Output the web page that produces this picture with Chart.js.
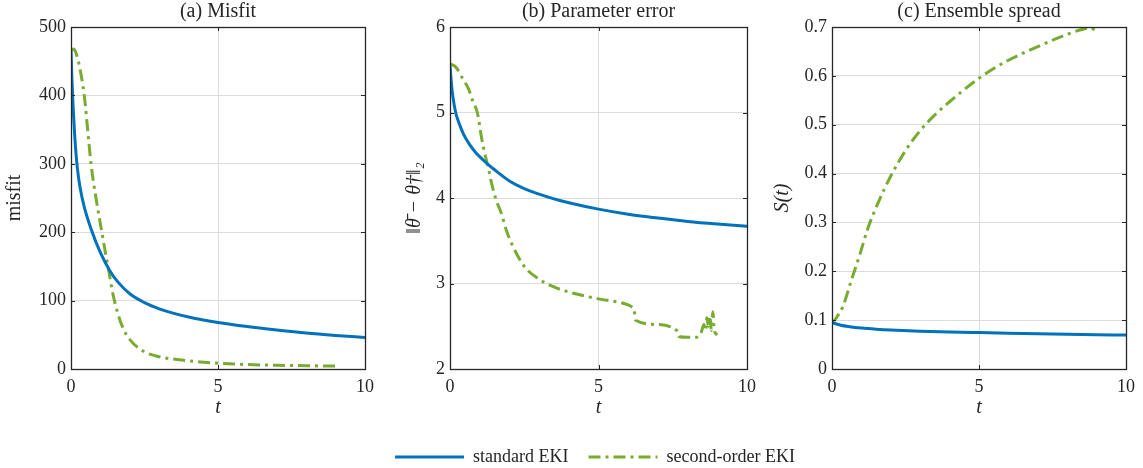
<!DOCTYPE html>
<html><head><meta charset="utf-8">
<script src="https://cdn.jsdelivr.net/npm/chart.js@4/dist/chart.umd.min.js"></script>
<style>
html,body{margin:0;padding:0;background:#fff;}
#wrap{position:relative;width:1143px;height:468px;overflow:hidden;}
canvas{position:absolute;left:0;top:0;}
</style></head><body>
<div id="wrap">
<canvas id="cb" width="1143" height="468"></canvas>
<canvas id="ca" width="1143" height="468"></canvas>
<canvas id="cc" width="1143" height="468"></canvas>
</div>
<script>
// ---------- data ----------
const seriesNames = ['standard EKI', 'second-order EKI'];
const panelTitles = ['(a) Misfit', '(b) Parameter error', '(c) Ensemble spread'];
const yTitles = ['misfit', '‖θ̄ − θ†‖₂', 'S(t)'];
const xTicks = [0, 5, 10];
const yTicksA = [0, 100, 200, 300, 400, 500];
const yTicksB = [2, 3, 4, 5, 6];
const yTicksC = [0, 0.1, 0.2, 0.3, 0.4, 0.5, 0.6, 0.7];

// (a) misfit
const tStdA = [0, 0.03, 0.07, 0.12, 0.19, 0.25, 0.31, 0.45, 0.68, 1.0, 1.33, 1.6, 2, 2.5, 3, 4, 5, 6, 7, 8, 9, 10];
const stdA  = [466, 425, 385, 345, 305, 282, 265, 237, 205, 170, 143, 127, 110, 97, 88, 76, 68, 62, 57, 52.5, 49, 46];
const tSecA = [0, 0.1, 0.2, 0.3, 0.45, 0.6, 0.68, 0.85, 1.05, 1.2, 1.3, 1.4, 1.6, 1.8, 2.0, 2.5, 3, 4, 5, 6, 7, 8, 9];
const secA  = [466, 468, 458, 440, 400, 335, 300, 250, 200, 163, 140, 115, 80, 57, 43, 25, 18, 12, 8.5, 6.5, 5.5, 4.8, 4.2];

// (b) parameter error
const tStdB = [0, 0.05, 0.1, 0.19, 0.3, 0.45, 0.65, 0.87, 1.1, 1.26, 1.5, 2, 2.5, 3, 3.5, 4, 5, 6, 7, 8, 9, 10];
const stdB  = [5.55, 5.33, 5.18, 5.0, 4.88, 4.75, 4.63, 4.53, 4.45, 4.40, 4.33, 4.20, 4.11, 4.045, 3.99, 3.945, 3.87, 3.81, 3.765, 3.725, 3.695, 3.67];
const tSecB = [0, 0.2, 0.42, 0.62, 0.78, 0.92, 1.06, 1.17, 1.30, 1.40, 1.56, 1.73, 1.90, 2.07, 2.5, 3, 3.5, 4, 5, 6, 6.15, 6.2, 6.25, 7, 7.6, 7.65, 7.7, 8.0, 8.3, 8.45, 8.55, 8.6, 8.65, 8.7, 8.75, 8.8, 8.85, 8.9, 9.0];
const secB  = [5.57, 5.53, 5.40, 5.28, 5.12, 5.0, 4.71, 4.52, 4.34, 4.17, 3.97, 3.82, 3.62, 3.47, 3.20, 3.05, 2.96, 2.90, 2.82, 2.75, 2.72, 2.70, 2.57, 2.52, 2.46, 2.44, 2.38, 2.37, 2.37, 2.42, 2.52, 2.45, 2.60, 2.50, 2.62, 2.45, 2.67, 2.45, 2.40];

// (c) ensemble spread
const tStdC = [0, 0.3, 0.6, 1, 1.5, 2, 3, 4, 5, 6, 7, 8, 9, 10];
const stdC  = [0.095, 0.0895, 0.0865, 0.0838, 0.0815, 0.0798, 0.0775, 0.0758, 0.0745, 0.0733, 0.0722, 0.0712, 0.0703, 0.0695];
const tSecC = [0, 0.15, 0.37, 0.66, 0.94, 1.22, 1.56, 2.0, 2.5, 3, 3.5, 4, 4.5, 5, 5.5, 6, 7, 8, 8.5, 8.8, 9.0];
const secC  = [0.093, 0.105, 0.128, 0.182, 0.233, 0.288, 0.339, 0.395, 0.447, 0.488, 0.52, 0.547, 0.572, 0.595, 0.615, 0.632, 0.66, 0.685, 0.695, 0.698, 0.69];

// ---------- styling ----------
const BLUE = '#0072BD', GREEN = '#77AC30', INK = '#262626', GRID = '#dcdcdc';
const SERIF = "'Liberation Serif', 'Times New Roman', serif";
const W = 1143, H = 468;
const PLOT_BOTTOM = 369, XTITLE_Y = 408;

function pts(xs, ys) { return xs.map((x, i) => ({x: x, y: ys[i]})); }

const framePlugin = {
  id: 'frame',
  afterDraw(chart) {
    const {ctx, chartArea: a, scales} = chart;
    ctx.save();
    ctx.strokeStyle = INK;
    ctx.lineWidth = 1;
    ctx.beginPath();
    const tl = 4;
    scales.y.ticks.forEach(t => {
      const py = Math.round(scales.y.getPixelForValue(t.value)) + 0.5;
      ctx.moveTo(a.left, py); ctx.lineTo(a.left + tl, py);
      ctx.moveTo(a.right, py); ctx.lineTo(a.right - tl, py);
    });
    scales.x.ticks.forEach(t => {
      const px = Math.round(scales.x.getPixelForValue(t.value)) + 0.5;
      ctx.moveTo(px, a.bottom); ctx.lineTo(px, a.bottom - tl);
      ctx.moveTo(px, a.top); ctx.lineTo(px, a.top + tl);
    });
    ctx.stroke();
    ctx.lineWidth = 1.3;
    ctx.strokeRect(Math.round(a.left) + 0.5, Math.round(a.top) + 0.5, Math.round(a.right - a.left), Math.round(a.bottom - a.top));
    ctx.restore();
  }
};

function legendLabels(chart) {
  const items = Chart.defaults.plugins.legend.labels.generateLabels(chart);
  items.forEach(it => {
    const ds = chart.data.datasets[it.datasetIndex];
    it.lineDash = ds.borderDash || [];
    it.lineWidth = 3;
    it.strokeStyle = ds.borderColor;
    it.fillStyle = ds.borderColor;
    it.pointStyle = 'line';
  });
  return items;
}

function makePanel(id, p) {
  const padL = p.padLeft || 0;
  const padB = p.padBottom;
  const cfg = {
    type: 'line',
    data: {
      datasets: [
        {label: seriesNames[0], data: pts(p.t1, p.v1), borderColor: BLUE, backgroundColor: BLUE,
         borderWidth: 3, pointRadius: 0, cubicInterpolationMode: 'monotone', fill: false},
        {label: seriesNames[1], data: pts(p.t2, p.v2), borderColor: GREEN, backgroundColor: GREEN,
         borderWidth: 3, borderDash: [12, 5, 3, 5], pointRadius: 0, cubicInterpolationMode: 'monotone', fill: false}
      ]
    },
    options: {
      responsive: false, animation: false, devicePixelRatio: 1,
      layout: {padding: {left: padL, right: 0, top: 0, bottom: padB}},
      plugins: {
        tooltip: {enabled: false},
        title: {display: true, text: p.title, fullSize: false, color: INK,
                font: {family: SERIF, size: 20, weight: 'normal'}, padding: {top: 0, bottom: 3}},
        legend: {
          display: !!p.legend, position: 'bottom', fullSize: true,
          labels: {usePointStyle: true, pointStyle: 'line', pointStyleWidth: 69, boxHeight: 3,
                   color: INK, padding: 20, font: {family: SERIF, size: 18},
                   generateLabels: legendLabels}
        }
      },
      scales: {
        x: {
          type: 'linear', min: 0, max: 10,
          afterBuildTicks(s) { s.ticks = xTicks.map(v => ({value: v})); },
          afterFit(s) {
            const lg = s.chart.legend;
            const L = (p.legend && lg) ? lg.height : 0;
            s.height = (H - padB - L) - PLOT_BOTTOM;
          },
          grid: {color: GRID, lineWidth: 1, drawTicks: false},
          border: {display: false},
          ticks: {color: INK, padding: 7, font: {family: SERIF, size: 18}, maxRotation: 0},
          title: {display: true, text: 't', color: INK, padding: {top: 0, bottom: 2},
                  font: {family: SERIF, size: 20, style: 'italic'}}
        },
        y: {
          type: 'linear', position: 'left', min: p.yTicks[0], max: p.yTicks[p.yTicks.length - 1],
          afterBuildTicks(s) { s.ticks = p.yTicks.map(v => ({value: v})); },
          afterFit(s) { s.width = p.left - padL; },
          grid: {color: GRID, lineWidth: 1, drawTicks: false},
          border: {display: false},
          ticks: {color: INK, padding: 5, font: {family: SERIF, size: 18}},
          title: {display: true, text: p.ytitle, color: INK, padding: {top: p.ytitleX - 12 - padL, bottom: 0},
                  font: {family: SERIF, size: 20, style: p.yItalic ? 'italic' : 'normal'}}
        },
        yR: {
          type: 'linear', position: 'right', display: true,
          grid: {display: false}, border: {display: false}, ticks: {display: false},
          afterFit(s) { s.width = W - p.right; }
        }
      }
    },
    plugins: [framePlugin]
  };
  const ch = new Chart(document.getElementById(id), cfg);
  const L = p.legend ? ch.legend.height : 0;
  ch.options.scales.x.title.padding = {top: 0, bottom: (H - padB - L) - 12 - XTITLE_Y};
  ch.update();
  return ch;
}

makePanel('cb', {t1: tStdB, v1: stdB, t2: tSecB, v2: secB, yTicks: yTicksB,
  title: panelTitles[1], ytitle: yTitles[1], yItalic: true, left: 450, right: 747, ytitleX: 415,
  legend: true, padLeft: 47, padBottom: -8});
makePanel('ca', {t1: tStdA, v1: stdA, t2: tSecA, v2: secA, yTicks: yTicksA,
  title: panelTitles[0], ytitle: yTitles[0], yItalic: false, left: 71, right: 365, ytitleX: 15,
  padBottom: 46});
makePanel('cc', {t1: tStdC, v1: stdC, t2: tSecC, v2: secC, yTicks: yTicksC,
  title: panelTitles[2], ytitle: yTitles[2], yItalic: true, left: 832, right: 1126, ytitleX: 783,
  padBottom: 46});
</script>
</body></html>
